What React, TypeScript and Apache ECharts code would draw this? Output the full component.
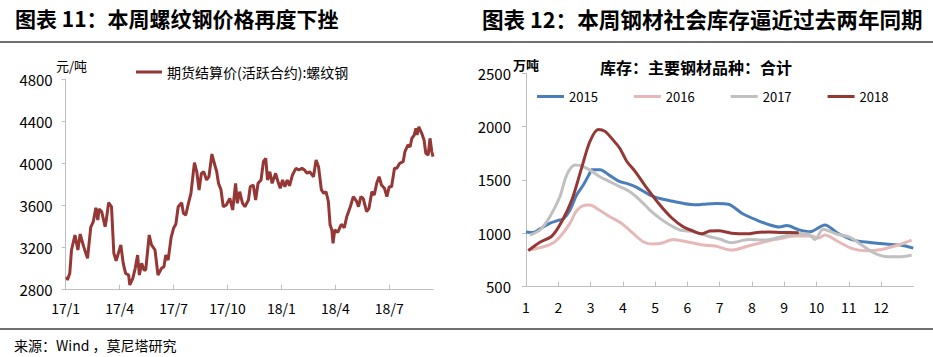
import React, { useEffect, useRef } from "react";
import * as echarts from "echarts";

// ---------- Left chart: rebar futures settlement price ----------
const priceDates: string[] = [
  "2017-01-03","2017-01-04","2017-01-08","2017-01-11","2017-01-17","2017-01-22","2017-01-26",
  "2017-02-01","2017-02-07","2017-02-12","2017-02-16","2017-02-20","2017-02-23","2017-02-25",
  "2017-03-01","2017-03-07","2017-03-09","2017-03-13","2017-03-18","2017-03-22","2017-03-26",
  "2017-04-03","2017-04-07","2017-04-11","2017-04-16","2017-04-18","2017-04-23","2017-04-27",
  "2017-05-01","2017-05-04","2017-05-08","2017-05-12","2017-05-15","2017-05-21","2017-05-25","2017-05-31",
  "2017-06-05","2017-06-11","2017-06-15","2017-06-18","2017-06-22","2017-06-27",
  "2017-07-01","2017-07-05","2017-07-09","2017-07-15","2017-07-18","2017-07-22","2017-07-26","2017-07-31",
  "2017-08-06","2017-08-10","2017-08-14","2017-08-18","2017-08-22","2017-08-27","2017-08-31",
  "2017-09-05","2017-09-09","2017-09-13","2017-09-16","2017-09-20","2017-09-24","2017-09-29",
  "2017-10-05","2017-10-10","2017-10-15","2017-10-18","2017-10-22","2017-10-27","2017-10-31",
  "2017-11-06","2017-11-09","2017-11-14","2017-11-18","2017-11-22","2017-11-27",
  "2017-12-01","2017-12-05","2017-12-08","2017-12-12","2017-12-16","2017-12-22","2017-12-27","2017-12-30",
  "2018-01-03","2018-01-07","2018-01-11","2018-01-15","2018-01-20","2018-01-26","2018-01-31",
  "2018-02-05","2018-02-09","2018-02-13","2018-02-17","2018-02-21","2018-02-23","2018-02-27",
  "2018-03-03","2018-03-08","2018-03-12","2018-03-16","2018-03-20","2018-03-23","2018-03-26","2018-03-28","2018-03-31",
  "2018-04-05","2018-04-11","2018-04-16","2018-04-20","2018-04-26",
  "2018-05-01","2018-05-07","2018-05-10","2018-05-14","2018-05-18","2018-05-24","2018-05-28",
  "2018-06-02","2018-06-06","2018-06-10","2018-06-14","2018-06-18","2018-06-23","2018-06-27",
  "2018-07-01","2018-07-05","2018-07-10","2018-07-14","2018-07-19","2018-07-25","2018-07-28",
  "2018-08-02","2018-08-06","2018-08-09","2018-08-13","2018-08-16","2018-08-18","2018-08-21","2018-08-26","2018-08-30",
  "2018-09-02","2018-09-06","2018-09-09","2018-09-12","2018-09-14",
];
const priceValues: number[] = [
  2924,2892,2956,3178,3321,3178,3330,
  3210,3099,3394,3448,3581,3464,3569,
  3543,3400,3464,3629,3590,3147,3076,
  3226,3051,2956,2940,2845,2908,3004,
  3130,2940,3051,2988,2988,3321,3226,3178,
  2940,3004,3019,3130,3083,3299,
  3385,3426,3590,3629,3527,3511,3607,3718,
  4010,3924,3750,3908,3924,3845,3876,
  4092,4004,3924,3813,3756,3590,3607,
  3670,3559,3813,3623,3733,3623,3590,
  3654,3781,3797,3654,3813,3845,
  4019,4051,3845,3924,3813,3908,3813,3766,
  3845,3781,3845,3790,3892,3956,3940,
  3956,3940,3908,3924,3892,3876,4035,
  3971,3750,3718,3733,3638,3416,3369,3242,3369,
  3347,3423,3391,3495,3590,
  3686,3638,3590,3686,3670,3543,3575,
  3733,3702,3813,3876,3797,3766,3686,
  3781,3781,3956,3956,4004,4019,4114,
  4178,4162,4242,4273,4337,4273,4352,4289,4226,
  4099,4083,4242,4114,4067,
];
const priceTickMonths: number[] = [0, 3, 6, 9, 12, 15, 18];
const priceSeriesName = "期货结算价(活跃合约):螺纹钢";

// ---------- Right chart: steel social inventory (万吨), x = month ----------
const stockMonths: number[] = [1, 2, 3, 4, 5, 6, 7, 8, 9, 10, 11, 12];
const stock2015: [number, number][] = [
  [1.0,1012],[1.2,1006],[1.43,1040],[1.75,1095],[2.0,1120],[2.16,1135],[2.36,1215],[2.57,1360],
  [2.78,1455],[2.98,1565],[3.03,1595],[3.29,1596],[3.6,1540],[3.91,1483],[4.12,1467],[4.43,1430],
  [4.84,1358],[5.15,1326],[5.46,1305],[5.87,1280],[6.29,1266],[6.6,1275],[6.91,1278],[7.27,1272],
  [7.7,1185],[8.15,1123],[8.56,1077],[8.85,1058],[9.08,1072],[9.44,1034],[9.8,1014],[10.26,1077],
  [10.65,1002],[11.15,935],[11.65,913],[12.15,898],[12.6,889],[13.0,860],
];
const stock2016: [number, number][] = [
  [1.07,842],[1.54,873],[1.85,911],[2.1,983],[2.36,1092],[2.57,1211],[2.83,1262],[2.98,1264],
  [3.24,1223],[3.6,1155],[3.96,1092],[4.32,998],[4.63,920],[4.94,898],[5.25,911],[5.56,942],
  [5.98,920],[6.49,889],[6.86,880],[7.37,842],[7.89,880],[8.4,920],[8.92,952],[9.33,973],
  [9.85,973],[10.06,955],[10.26,983],[10.68,920],[11.09,858],[11.5,836],[12.02,848],[12.53,889],[12.95,936],
];
const stock2017: [number, number][] = [
  [1.12,983],[1.43,1030],[1.74,1155],[2.05,1342],[2.26,1545],[2.52,1639],[2.67,1636],[2.98,1592],
  [3.29,1530],[3.6,1483],[3.91,1436],[4.22,1389],[4.53,1311],[4.84,1217],[5.15,1139],[5.46,1077],
  [5.77,1030],[6.18,1014],[6.7,967],[7.0,945],[7.37,911],[7.89,940],[8.4,936],[8.92,967],
  [9.44,998],[9.75,992],[9.95,942],[10.21,1036],[10.62,992],[11.04,961],[11.4,889],[11.81,811],
  [12.22,780],[12.64,780],[12.95,795],
];
const stock2018: [number, number][] = [
  [1.07,836],[1.43,915],[1.8,973],[2.1,1105],[2.42,1311],[2.72,1608],[2.98,1860],[3.24,1973],
  [3.45,1955],[3.7,1873],[3.91,1795],[4.12,1675],[4.38,1580],[4.74,1425],[5.15,1264],[5.51,1145],
  [5.87,1061],[6.18,1020],[6.44,994],[6.7,1020],[6.96,1023],[7.37,1000],[7.89,994],[8.1,1005],
  [8.51,1011],[8.92,1007],[9.45,1005],
];
const stockYears: string[] = ["2015", "2016", "2017", "2018"];
const stockColors: string[] = ["#4A7EBB", "#E6B9B8", "#C0C0C0", "#953735"];

function daysInMonth(y: number, m: number) {
  return new Date(y, m, 0).getDate();
}
function monthOffset(d: string) {
  const [y, m, day] = d.split("-").map(Number);
  return (y - 2017) * 12 + (m - 1) + (day - 1) / daysInMonth(y, m);
}

const FONT = "'Noto Sans CJK SC', 'Noto Sans', sans-serif";
const AXIS_GREY = "#BFBFBF";

export default function App() {
  const ref = useRef<HTMLDivElement>(null);
  useEffect(() => {
    const chart = echarts.init(ref.current!, null, { renderer: "svg" });
    const priceData = priceDates.map((d, i) => [monthOffset(d), priceValues[i]]);
    const xMax = monthOffset(priceDates[priceDates.length - 1]);
    const stockData = [stock2015, stock2016, stock2017, stock2018];
    const plain = (v: number) => String(v);

    chart.setOption({
      animation: false,
      backgroundColor: "#fff",
      textStyle: { fontFamily: FONT, color: "#000" },
      grid: [
        { left: 65.7, top: 79.7, width: 367.3, height: 210 },
        { left: 526, top: 73.3, width: 387.3, height: 213.2 },
      ],
      xAxis: [
        {
          type: "value",
          gridIndex: 0,
          min: 0,
          max: xMax,
          interval: 3,
          splitLine: { show: false },
          axisLine: { show: true, lineStyle: { color: AXIS_GREY, width: 1 } },
          axisTick: { show: true, inside: true, length: 5, customValues: priceTickMonths, lineStyle: { color: AXIS_GREY } },
          axisLabel: {
            customValues: priceTickMonths,
            margin: 11,
            fontSize: 14,
            color: "#000",
            formatter: (v: number) => `${17 + Math.floor(v / 12)}/${(v % 12) + 1}`,
          },
        },
        {
          type: "value",
          gridIndex: 1,
          min: 1,
          max: 13,
          interval: 1,
          splitLine: { show: false },
          axisLine: { show: true, lineStyle: { color: AXIS_GREY, width: 1 } },
          axisTick: { show: true, inside: true, length: 5, customValues: stockMonths, lineStyle: { color: AXIS_GREY } },
          axisLabel: { customValues: stockMonths, margin: 13, fontSize: 14, color: "#000", formatter: plain },
        },
      ],
      yAxis: [
        {
          type: "value",
          gridIndex: 0,
          min: 2800,
          max: 4800,
          interval: 400,
          splitLine: { show: false },
          axisLine: { show: true, lineStyle: { color: AXIS_GREY, width: 1 } },
          axisTick: { show: true, length: 4, lineStyle: { color: AXIS_GREY } },
          axisLabel: { margin: 13, fontSize: 15, color: "#000", formatter: plain },
        },
        {
          type: "value",
          gridIndex: 1,
          min: 500,
          max: 2500,
          interval: 500,
          splitLine: { show: false },
          axisLine: { show: true, lineStyle: { color: AXIS_GREY, width: 1 } },
          axisTick: { show: true, length: 4, lineStyle: { color: AXIS_GREY } },
          axisLabel: { margin: 15, fontSize: 15, color: "#000", formatter: plain },
        },
      ],
      legend: [
        {
          data: [priceSeriesName],
          left: 131,
          top: 60,
          icon: "rect",
          itemWidth: 26,
          itemHeight: 3,
          textStyle: { fontSize: 14, color: "#000", fontFamily: FONT },
        },
        {
          data: stockYears,
          left: 532,
          top: 85,
          icon: "rect",
          itemWidth: 27,
          itemHeight: 3,
          itemGap: 36,
          textStyle: { fontSize: 13, color: "#000", fontFamily: FONT },
        },
      ],
      series: [
        {
          name: priceSeriesName,
          type: "line",
          xAxisIndex: 0,
          yAxisIndex: 0,
          data: priceData,
          symbol: "none",
          color: "#953735",
          lineStyle: { width: 3, color: "#953735" },
        },
        ...stockYears.map((yr, i) => ({
          name: yr,
          type: "line",
          xAxisIndex: 1,
          yAxisIndex: 1,
          data: stockData[i],
          symbol: "none",
          smooth: 0.3,
          color: stockColors[i],
          lineStyle: { width: 3, color: stockColors[i] },
        })),
      ],
      graphic: [
        {
          type: "text",
          x: 15,
          y: 18,
          style: { text: "图表 11：本周螺纹钢价格再度下挫", fill: "#000", fontSize: 21, fontWeight: "bold", fontFamily: FONT, verticalAlign: "middle" },
        },
        {
          type: "text",
          x: 482,
          y: 18,
          style: { text: "图表 12：本周钢材社会库存逼近过去两年同期", fill: "#000", fontSize: 21.6, fontWeight: "bold", fontFamily: FONT, verticalAlign: "middle" },
        },
        { type: "line", shape: { x1: 0, y1: 42, x2: 933, y2: 42 }, style: { stroke: "#404040", lineWidth: 1.5 } },
        { type: "line", shape: { x1: 0, y1: 329, x2: 933, y2: 329 }, style: { stroke: "#404040", lineWidth: 1.5 } },
        {
          type: "text",
          x: 14,
          y: 345,
          style: { text: "来源：Wind ，莫尼塔研究", fill: "#000", fontSize: 14, fontFamily: FONT, verticalAlign: "middle" },
        },
        {
          type: "text",
          x: 56,
          y: 65,
          style: { text: "元/吨", fill: "#000", fontSize: 13, fontFamily: FONT, verticalAlign: "middle" },
        },
        {
          type: "text",
          x: 513,
          y: 64,
          style: { text: "万吨", fill: "#000", fontSize: 13, fontWeight: "bold", fontFamily: FONT, verticalAlign: "middle" },
        },
        {
          type: "text",
          x: 600,
          y: 67,
          style: { text: "库存：主要钢材品种：合计", fill: "#000", fontSize: 16, fontWeight: "bold", fontFamily: FONT, verticalAlign: "middle" },
        },
      ],
    });
    return () => chart.dispose();
  }, []);
  return (
    <div
      ref={ref}
      style={{ position: "fixed", left: 0, top: 0, width: 933, height: 357, background: "#fff" }}
    />
  );
}
